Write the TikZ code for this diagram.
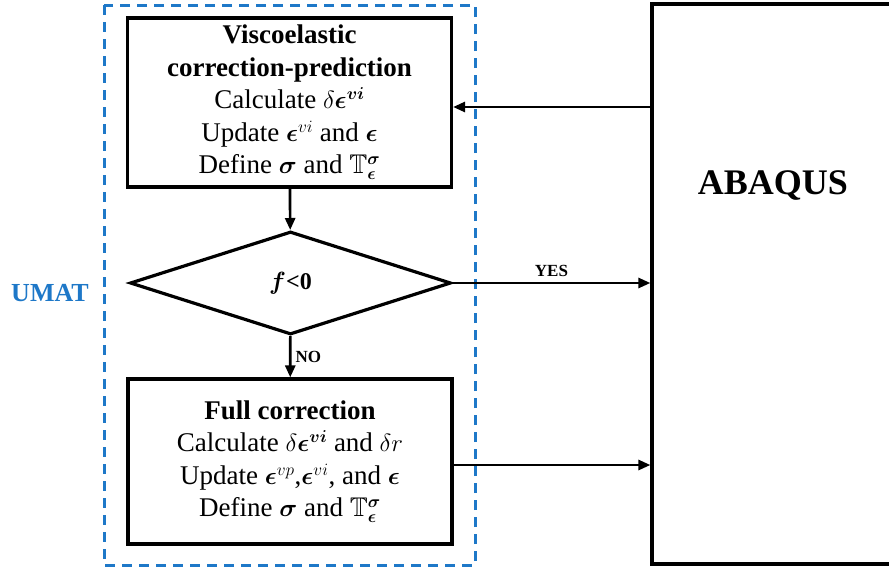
\documentclass[tikz,border=0pt]{standalone}
\usepackage{amsmath,amssymb,bm}
\usepackage{fontspec}
\setmainfont{Liberation Serif}
\usepackage{xcolor}
\usetikzlibrary{arrows.meta,shapes.geometric,positioning}
\definecolor{umatblue}{HTML}{1E78C8}
\tikzset{
  stepbox/.style={draw,line width=3.2pt,minimum width=324pt,align=center,inner sep=0pt,font=\fontsize{27}{32.5}\selectfont},
  checkdiamond/.style={diamond,draw,line width=3.2pt,minimum width=321pt,minimum height=103pt,inner sep=0pt,font=\fontsize{24}{30}\selectfont\bfseries},
  flowarrow/.style={-{Triangle[length=12pt,width=10pt]},line width=2.7pt},
  umatbox/.style={umatblue,line width=3pt,dash pattern=on 10pt off 7pt},
  branchlabel/.style={font=\fontsize{17}{19}\selectfont\bfseries,inner sep=1pt}
}

\begin{document}
\begin{tikzpicture}[x=1pt,y=-1pt]
\useasboundingbox (0,0) rectangle (889,568);
\clip (0,0) rectangle (889,568);
\draw[umatbox] (104,5) rectangle (475,565);
\node[umatblue,font=\fontsize{26}{30}\selectfont\bfseries] (umat) at (50,293) {UMAT};
\node[stepbox,minimum height=169pt] (predict) at (289.5,102.5) {\textbf{Viscoelastic}\\\textbf{correction-prediction}\\Calculate $\delta\bm{\epsilon}^{\bm{vi}}$\\Update $\bm{\epsilon}^{vi}$ and $\bm{\epsilon}$\\Define $\bm{\sigma}$ and $\mathbb{T}^{\bm{\sigma}}_{\bm{\epsilon}}$};
\node[checkdiamond] (check) at (290.5,283) {$\bm{f}$<0};
\node[stepbox,minimum height=165pt] (full) at (290,461.5) {\textbf{Full correction}\\Calculate $\delta\bm{\epsilon}^{\bm{vi}}$ and $\delta r$\\Update $\bm{\epsilon}^{vp}$,$\bm{\epsilon}^{vi}$, and $\bm{\epsilon}$\\Define $\bm{\sigma}$ and $\mathbb{T}^{\bm{\sigma}}_{\bm{\epsilon}}$};
\node[draw,line width=3.2pt,minimum width=260pt,minimum height=560pt] (abaqus) at (782,284) {};
\node[font=\fontsize{36}{40}\selectfont\bfseries] (abaqustext) at (773,185) {ABAQUS};
\draw[flowarrow] (abaqus.west |- 0,107) -- (predict.east |- 0,107);
\draw[flowarrow] (predict) -- (check);
\draw[flowarrow] (check.east) -- (abaqus.west |- check.east) node[branchlabel,midway,above=4pt] {YES};
\draw[flowarrow] (check) -- (full) node[branchlabel,midway,right=3pt] {NO};
\draw[flowarrow] (full.east |- 0,465) -- (abaqus.west |- 0,465);
\end{tikzpicture}
\end{document}
